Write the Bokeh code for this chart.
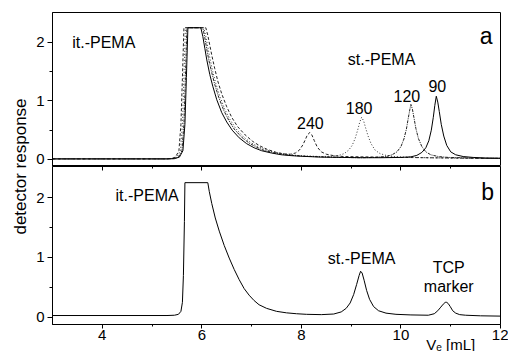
import math
from bokeh.plotting import figure
from bokeh.layouts import row, column
from bokeh.models import Range1d, Label, FixedTicker, LinearAxis
from bokeh.core.properties import value
from bokeh.embed import file_html
from bokeh.resources import INLINE

FONT = "Liberation Sans"

# ---- panel a: iso-PEMA + syndio-PEMA standards (detector saturates at 2.25) ----
x90 = [3.0, 5.3, 5.45, 5.55, 5.62, 5.66, 5.69, 5.72, 5.98, 6.02, 6.06, 6.1, 6.16, 6.22, 6.3, 6.4,
       6.5, 6.61, 6.75, 6.9, 7.05, 7.2, 7.4, 7.6, 7.8, 8.0, 8.4, 8.8, 9.2, 9.6, 10.0, 10.2, 10.32,
       10.42, 10.5, 10.56, 10.61, 10.65, 10.68, 10.71, 10.74, 10.77, 10.81, 10.86, 10.92, 11.0,
       11.1, 11.25, 11.45, 11.7, 12.0]
y90 = [0.01, 0.01, 0.015, 0.04, 0.15, 0.6, 1.4, 2.25, 2.25, 2.1, 1.9, 1.7, 1.45, 1.25, 1.02, 0.8,
       0.64, 0.5, 0.37, 0.27, 0.2, 0.15, 0.11, 0.08, 0.065, 0.055, 0.04, 0.035, 0.03, 0.03, 0.035,
       0.045, 0.07, 0.12, 0.2, 0.32, 0.5, 0.72, 0.92, 1.08, 0.98, 0.82, 0.6, 0.4, 0.24, 0.13,
       0.08, 0.05, 0.035, 0.025, 0.02]

x120 = [3.0, 5.3, 5.45, 5.53, 5.6, 5.64, 5.67, 5.7, 6.02, 6.06, 6.1, 6.14, 6.2, 6.26, 6.34, 6.44,
        6.54, 6.65, 6.8, 6.95, 7.1, 7.25, 7.45, 7.65, 7.85, 8.05, 8.4, 8.8, 9.2, 9.5, 9.7, 9.82,
        9.92, 10.0, 10.06, 10.11, 10.15, 10.18, 10.2, 10.23, 10.26, 10.3, 10.35, 10.42, 10.5,
        10.6, 10.75, 10.95, 11.2, 11.6, 12.0]
y120 = [0.01, 0.01, 0.015, 0.04, 0.15, 0.6, 1.4, 2.25, 2.25, 2.08, 1.88, 1.7, 1.48, 1.28, 1.06,
        0.84, 0.67, 0.52, 0.38, 0.28, 0.21, 0.155, 0.115, 0.085, 0.068, 0.055, 0.045, 0.035,
        0.03, 0.035, 0.05, 0.08, 0.13, 0.22, 0.35, 0.52, 0.72, 0.86, 0.94, 0.86, 0.72, 0.53,
        0.36, 0.22, 0.13, 0.08, 0.05, 0.035, 0.03, 0.02, 0.02]

x180 = [3.0, 5.3, 5.42, 5.5, 5.57, 5.61, 5.64, 5.67, 6.04, 6.08, 6.12, 6.16, 6.22, 6.28, 6.36,
        6.46, 6.56, 6.68, 6.83, 6.98, 7.13, 7.3, 7.5, 7.7, 7.9, 8.1, 8.4, 8.6, 8.75, 8.86, 8.95,
        9.02, 9.08, 9.13, 9.17, 9.21, 9.25, 9.29, 9.34, 9.4, 9.48, 9.58, 9.7, 9.85, 10.1, 10.5,
        11.0, 11.5, 12.0]
y180 = [0.01, 0.01, 0.015, 0.04, 0.15, 0.6, 1.4, 2.25, 2.25, 2.1, 1.92, 1.74, 1.5, 1.3, 1.08,
        0.86, 0.69, 0.53, 0.39, 0.29, 0.22, 0.16, 0.115, 0.09, 0.07, 0.06, 0.05, 0.055, 0.07,
        0.1, 0.16, 0.24, 0.36, 0.5, 0.63, 0.72, 0.66, 0.54, 0.4, 0.27, 0.16, 0.1, 0.07, 0.05,
        0.04, 0.03, 0.025, 0.02, 0.02]

x240 = [3.0, 5.25, 5.38, 5.47, 5.54, 5.58, 5.61, 5.64, 6.08, 6.12, 6.16, 6.2, 6.26, 6.32, 6.4,
        6.5, 6.6, 6.72, 6.87, 7.02, 7.17, 7.32, 7.5, 7.65, 7.78, 7.88, 7.96, 8.03, 8.08, 8.12,
        8.17, 8.21, 8.26, 8.32, 8.4, 8.5, 8.65, 8.85, 9.2, 9.6, 10.0, 10.5, 11.0, 11.5, 12.0]
y240 = [0.01, 0.01, 0.015, 0.04, 0.15, 0.6, 1.4, 2.25, 2.25, 2.12, 1.95, 1.78, 1.55, 1.34, 1.12,
        0.9, 0.72, 0.56, 0.42, 0.31, 0.23, 0.17, 0.12, 0.095, 0.09, 0.11, 0.16, 0.25, 0.34,
        0.42, 0.46, 0.42, 0.32, 0.21, 0.13, 0.09, 0.065, 0.05, 0.045, 0.04, 0.035, 0.03, 0.025,
        0.02, 0.02]

# ---- panel b: blend of it.-PEMA and st.-PEMA with TCP flow marker ----
xb = [3.0, 5.3, 5.45, 5.53, 5.58, 5.61, 5.63, 5.65, 5.66, 6.12, 6.15, 6.2, 6.27, 6.35, 6.45, 6.55,
      6.65, 6.75, 6.85, 6.95, 7.05, 7.15, 7.3, 7.5, 7.7, 7.9, 8.1, 8.4, 8.65, 8.8, 8.9, 8.98, 9.05,
      9.11, 9.16, 9.19, 9.22, 9.26, 9.31, 9.37, 9.45, 9.55, 9.7, 9.9, 10.2, 10.55, 10.67, 10.74,
      10.8, 10.85, 10.89, 10.92, 10.95, 10.99, 11.04, 11.1, 11.18, 11.3, 11.6, 12.0]
yb = [0.03, 0.03, 0.035, 0.05, 0.1, 0.25, 0.7, 1.6, 2.25, 2.25, 2.1, 1.9, 1.66, 1.44, 1.2, 0.99,
      0.8, 0.63, 0.48, 0.37, 0.28, 0.21, 0.15, 0.1, 0.075, 0.06, 0.05, 0.045, 0.055, 0.09, 0.15,
      0.24, 0.38, 0.55, 0.7, 0.77, 0.74, 0.62, 0.45, 0.3, 0.18, 0.11, 0.07, 0.05, 0.04, 0.035,
      0.06, 0.11, 0.17, 0.22, 0.25, 0.25, 0.23, 0.18, 0.11, 0.07, 0.045, 0.035, 0.025, 0.02]

x_ticks = [4, 6, 8, 10, 12]
x_minor = [5, 7, 9, 11]
y_ticks = [0, 1, 2]
x_title = "Vₑ [mL]"
x_title_at = 11


def style_y(p):
    ax = p.yaxis[0]
    ax.ticker = FixedTicker(ticks=y_ticks, minor_ticks=[0.5, 1.5])
    ax.major_tick_out = 5
    ax.major_tick_in = 0
    ax.minor_tick_out = 3
    ax.minor_tick_in = 0
    ax.major_label_standoff = 3
    ax.major_label_text_font = FONT
    ax.major_label_text_font_size = "15px"
    ax.major_label_text_color = "black"
    ax.axis_line_color = "black"
    ax.major_tick_line_color = "black"
    ax.minor_tick_line_color = "black"


def base_fig(height, y_range, **kw):
    p = figure(width=478, height=height, x_range=Range1d(3, 12), y_range=y_range,
               output_backend="svg", toolbar_location=None, min_border_left=22,
               min_border_right=8, **kw)
    p.grid.visible = False
    p.outline_line_color = "black"
    p.outline_line_width = 1
    p.background_fill_color = "white"
    p.border_fill_color = "white"
    style_y(p)
    return p


top = base_fig(166, Range1d(-0.12, 2.51), x_axis_location=None,
               min_border_top=12, min_border_bottom=0)
top.line(x240, y240, line_color="#222222", line_width=1, line_dash="3 2")
top.line(x180, y180, line_color="#333333", line_width=1, line_dash="1 2")
top.line(x120, y120, line_color="#222222", line_width=1, line_dash="3 1 1 1")
top.line(x90, y90, line_color="black", line_width=1)

top.text(x=[4.03, 9.61], y=[2.0, 1.71], text=["it.-PEMA", "st.-PEMA"],
         text_font=value(FONT), text_font_size="16px", text_align="center",
         text_baseline="middle", text_color="black")
top.text(x=[8.18, 9.16, 10.12, 10.73], y=[0.62, 0.88, 1.08, 1.26],
         text=["240", "180", "120", "90"], text_font=value(FONT), text_font_size="16px",
         text_align="center", text_baseline="middle", text_color="black")
top.text(x=[11.71], y=[2.11], text=["a"], text_font=value(FONT), text_font_size="23px",
         text_align="center", text_baseline="alphabetic", text_color="black")

# the lower panel's canvas runs a little past the page bottom, as the title is cropped
bot = base_fig(195, Range1d(-0.12, 2.52), min_border_top=0, min_border_bottom=37)
bx = bot.xaxis[0]
bx.ticker = FixedTicker(ticks=x_ticks, minor_ticks=x_minor)
bx.major_tick_out = 4
bx.major_tick_in = 0
bx.minor_tick_out = 2
bx.minor_tick_in = 0
bx.major_label_standoff = 1
bx.major_label_text_font = FONT
bx.major_label_text_font_size = "15px"
bx.major_label_text_color = "black"
bx.axis_line_color = "black"

# x title set at the right, tucked up under the tick labels
xt = LinearAxis(ticker=FixedTicker(ticks=[x_title_at], minor_ticks=[]),
                major_tick_in=0, major_tick_out=0, axis_line_color=None,
                major_label_overrides={x_title_at: x_title},
                major_label_standoff=-7, major_label_text_font=FONT,
                major_label_text_font_size="15px", major_label_text_color="black")
bot.add_layout(xt, "below")

# tick marks along the shared boundary between the panels (no labels)
sep = LinearAxis(ticker=FixedTicker(ticks=x_ticks, minor_ticks=x_minor),
                 major_tick_in=4, major_tick_out=0, minor_tick_in=2, minor_tick_out=0,
                 major_label_overrides={t: "" for t in x_ticks},
                 major_label_standoff=0, axis_line_color=None)
bot.add_layout(sep, "above")

bot.line(xb, yb, line_color="black", line_width=1)
bot.text(x=[4.90, 9.21, 10.96, 10.96], y=[2.04, 0.98, 0.84, 0.51],
         text=["it.-PEMA", "st.-PEMA", "TCP", "marker"], text_font=value(FONT),
         text_font_size="16px", text_align="center", text_baseline="middle",
         text_color="black")
bot.text(x=[11.74], y=[2.09], text=["b"], text_font=value(FONT), text_font_size="23px",
         text_align="center", text_baseline="alphabetic", text_color="black")

# shared y-axis title spanning both panels
lab = figure(width=30, height=351, x_range=Range1d(0, 30), y_range=Range1d(0, 351),
             output_backend="svg", toolbar_location=None, min_border=0,
             x_axis_location=None, y_axis_location=None)
lab.grid.visible = False
lab.outline_line_color = None
lab.add_layout(Label(x=20, y=185, text="detector response", angle=math.pi / 2,
                     text_align="center", text_baseline="middle", text_font=FONT,
                     text_font_size="17px", text_color="black"))

layout = row(lab, column(top, bot, spacing=0), spacing=0)

with open("out.html", "w") as f:
    f.write(file_html(layout, INLINE))
